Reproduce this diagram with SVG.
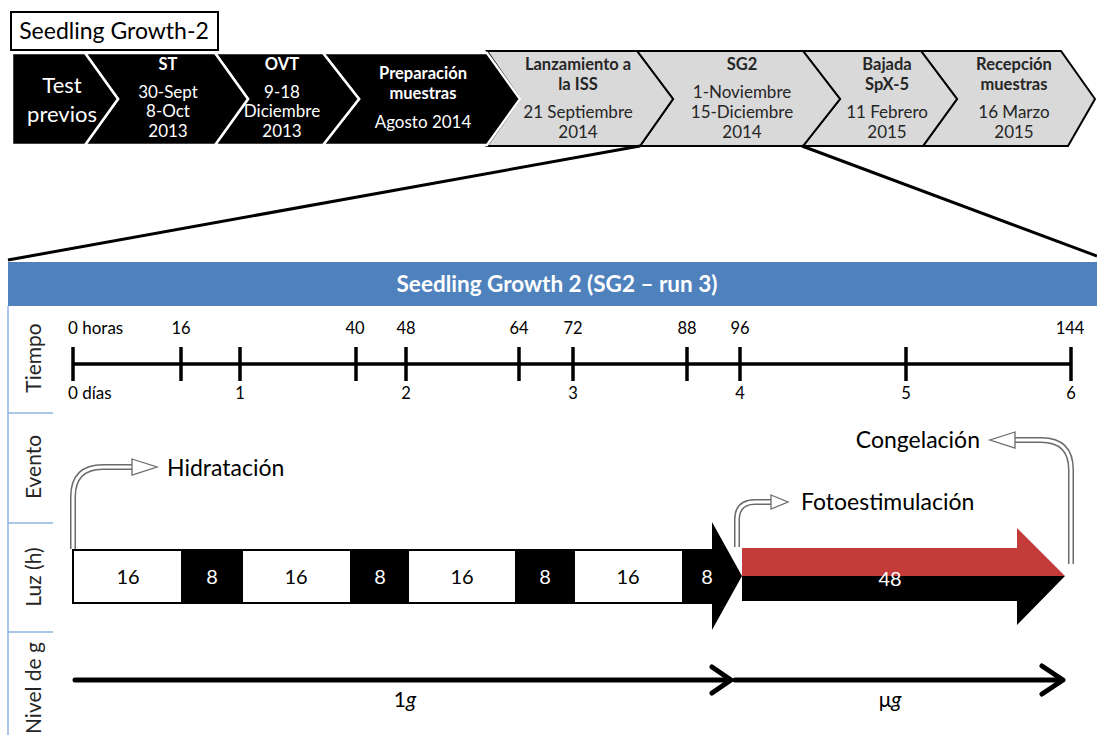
<svg xmlns="http://www.w3.org/2000/svg" width="1097" height="735" viewBox="0 0 1097 735">
  <style>
    text { font-family: Lato, "Liberation Sans", sans-serif; }
    .chev-dark { fill: #000; stroke: #fff; stroke-width: 2.5; stroke-linejoin: miter; }
    .chev-light { fill: #d9d9d9; stroke: #000; stroke-width: 2; stroke-linejoin: miter; }
    .wt { fill: #fff; text-anchor: middle; font-size: 17px; }
    .wtb { fill: #fff; text-anchor: middle; font-size: 16.5px; font-weight: bold; }
    .dk { fill: #262626; text-anchor: middle; font-size: 17px; }
    .dkb { fill: #262626; text-anchor: middle; font-size: 16.5px; font-weight: bold; }
    .axis { stroke: #000; stroke-width: 3.5; fill: none; }
    .tick { stroke: #000; stroke-width: 3.5; }
    .tl { fill: #000; font-size: 16.5px; text-anchor: middle; }
    .tl-start { fill: #000; font-size: 17px; text-anchor: start; }
    .row { fill: #262626; font-size: 21px; text-anchor: middle; }
    .cell-w { fill: #fff; stroke: #000; stroke-width: 2; }
    .cell-b { fill: #000; stroke: #000; stroke-width: 2; }
    .num { font-size: 20px; text-anchor: middle; }
    .sep { stroke: #8eb4e3; stroke-width: 1.5; }
    .ev-out { fill: none; stroke: #6b6b6b; stroke-width: 6; }
    .ev-in { fill: none; stroke: #fff; stroke-width: 3; }
    .ev-head { fill: #fff; stroke: #6b6b6b; stroke-width: 1.3; stroke-linejoin: miter; }
    .ev-label { fill: #000; font-size: 23px; }
    .g-line { stroke: #000; stroke-width: 5; fill: none; stroke-linecap: round; stroke-linejoin: round; }
    .zoom { stroke: #000; stroke-width: 3; }
  </style>

  <rect width="1097" height="735" fill="#fff"/>

  <!-- Title -->
  <g id="title">
    <rect x="11" y="12" width="207" height="38" fill="#fff" stroke="#000" stroke-width="2"/>
    <text x="114" y="39" font-size="23" text-anchor="middle" fill="#000">Seedling Growth-2</text>
  </g>

  <!-- Milestone chevrons -->
  <g id="chev-recepcion">
    <polygon class="chev-light" points="921,51 1061,51 1095,99 1068,146 923,146 957,99"/>
    <text class="dkb" x="1014" y="70">Recepción</text>
    <text class="dkb" x="1014" y="90">muestras</text>
    <text class="dk" x="1014" y="118">16 Marzo</text>
    <text class="dk" x="1014" y="138">2015</text>
  </g>
  <g id="chev-bajada">
    <polygon class="chev-light" points="803,51 921,51 957,99 923,146 803,146 840,99"/>
    <text class="dkb" x="887" y="70">Bajada</text>
    <text class="dkb" x="887" y="90">SpX-5</text>
    <text class="dk" x="887" y="118">11 Febrero</text>
    <text class="dk" x="887" y="138">2015</text>
  </g>
  <g id="chev-sg2">
    <polygon class="chev-light" points="637,51 803,51 840,99 803,146 640,146 673,99"/>
    <text class="dkb" x="742" y="70">SG2</text>
    <text class="dk" x="742" y="98">1-Noviembre</text>
    <text class="dk" x="742" y="118">15-Diciembre</text>
    <text class="dk" x="742" y="138">2014</text>
  </g>
  <g id="chev-lanzamiento">
    <polygon class="chev-light" points="487,51 637,51 673,99 640,146 487,146 520,99"/>
    <text class="dkb" x="578" y="70">Lanzamiento a</text>
    <text class="dkb" x="578" y="90">la ISS</text>
    <text class="dk" x="578" y="118">21 Septiembre</text>
    <text class="dk" x="578" y="138">2014</text>
  </g>
  <g id="chev-preparacion">
    <polygon class="chev-dark" points="323,53 487,53 520,99 487,145 323,145 359,99"/>
    <text class="wtb" x="423" y="79">Preparación</text>
    <text class="wtb" x="423" y="99">muestras</text>
    <text class="wt" x="423" y="128">Agosto 2014</text>
  </g>
  <g id="chev-ovt">
    <polygon class="chev-dark" points="215,53 323,53 359,99 323,145 215,145 248,99"/>
    <text class="wtb" x="282" y="70">OVT</text>
    <text class="wt" x="282" y="98">9-18</text>
    <text class="wt" x="282" y="117">Diciembre</text>
    <text class="wt" x="282" y="137">2013</text>
  </g>
  <g id="chev-st">
    <polygon class="chev-dark" points="85,53 215,53 248,99 215,145 85,145 118,99"/>
    <text class="wtb" x="168" y="70">ST</text>
    <text class="wt" x="168" y="98">30-Sept</text>
    <text class="wt" x="168" y="117">8-Oct</text>
    <text class="wt" x="168" y="137">2013</text>
  </g>
  <g id="chev-test">
    <polygon class="chev-dark" points="12,53 85,53 118,99 85,145 12,145"/>
    <text x="62" y="93" fill="#fff" font-size="22" text-anchor="middle">Test</text>
    <text x="62" y="122" fill="#fff" font-size="22" text-anchor="middle">previos</text>
  </g>

  <!-- Zoom lines from SG2 to the detail panel -->
  <g id="connectors">
    <line class="zoom" x1="640" y1="146" x2="8" y2="260"/>
    <line class="zoom" x1="802" y1="146" x2="1097" y2="256"/>
  </g>

  <!-- Detail panel -->
  <g id="panel-header">
    <rect x="8" y="262" width="1089" height="44" fill="#4f81bd"/>
    <text x="557" y="292" fill="#fff" font-size="22.5" font-weight="bold" text-anchor="middle">Seedling Growth 2 (SG2 – run 3)</text>
  </g>

  <g id="row-labels">
    <line class="sep" x1="8" y1="306" x2="8" y2="735"/>
    <line class="sep" x1="8" y1="413" x2="53" y2="413"/>
    <line class="sep" x1="8" y1="523" x2="53" y2="523"/>
    <line class="sep" x1="8" y1="632" x2="53" y2="632"/>
    <text class="row" transform="translate(41,358) rotate(-90)">Tiempo</text>
    <text class="row" transform="translate(41,467) rotate(-90)">Evento</text>
    <text class="row" transform="translate(41,577) rotate(-90)">Luz (h)</text>
    <text class="row" transform="translate(41,688) rotate(-90)">Nivel de g</text>
  </g>

  <!-- Time axis -->
  <g id="timeline">
    <line class="axis" x1="73" y1="364" x2="1071" y2="364"/>
    <g class="tick">
      <line x1="73" y1="347" x2="73" y2="381"/>
      <line x1="181" y1="347" x2="181" y2="381"/>
      <line x1="240" y1="347" x2="240" y2="381"/>
      <line x1="356" y1="347" x2="356" y2="381"/>
      <line x1="406" y1="347" x2="406" y2="381"/>
      <line x1="519" y1="347" x2="519" y2="381"/>
      <line x1="573" y1="347" x2="573" y2="381"/>
      <line x1="687" y1="347" x2="687" y2="381"/>
      <line x1="740" y1="347" x2="740" y2="381"/>
      <line x1="906" y1="347" x2="906" y2="381"/>
      <line x1="1071" y1="347" x2="1071" y2="381"/>
    </g>
    <text class="tl-start" x="68" y="334">0 horas</text>
    <text class="tl" x="181" y="334">16</text>
    <text class="tl" x="355" y="334">40</text>
    <text class="tl" x="406" y="334">48</text>
    <text class="tl" x="519" y="334">64</text>
    <text class="tl" x="573" y="334">72</text>
    <text class="tl" x="687" y="334">88</text>
    <text class="tl" x="740" y="334">96</text>
    <text class="tl" x="1070" y="334">144</text>
    <text class="tl-start" x="68" y="399">0 días</text>
    <text class="tl" x="240" y="399">1</text>
    <text class="tl" x="406" y="399">2</text>
    <text class="tl" x="573" y="399">3</text>
    <text class="tl" x="740" y="399">4</text>
    <text class="tl" x="906" y="399">5</text>
    <text class="tl" x="1071" y="399">6</text>
  </g>

  <!-- Light / dark cycles -->
  <g id="light-cycles">
    <rect class="cell-w" x="73" y="550" width="109" height="53"/>
    <rect class="cell-b" x="182" y="550" width="60" height="53"/>
    <rect class="cell-w" x="242" y="550" width="109" height="53"/>
    <rect class="cell-b" x="351" y="550" width="57" height="53"/>
    <rect class="cell-w" x="408" y="550" width="108" height="53"/>
    <rect class="cell-b" x="516" y="550" width="58" height="53"/>
    <rect class="cell-w" x="574" y="550" width="109" height="53"/>
    <polygon fill="#000" points="683,549 712,549 712,522 742,576 712,630 712,604 683,604"/>
    <text class="num" x="128" y="584" fill="#000">16</text>
    <text class="num" x="212" y="584" fill="#fff">8</text>
    <text class="num" x="296" y="584" fill="#000">16</text>
    <text class="num" x="380" y="584" fill="#fff">8</text>
    <text class="num" x="462" y="584" fill="#000">16</text>
    <text class="num" x="545" y="584" fill="#fff">8</text>
    <text class="num" x="628" y="584" fill="#000">16</text>
    <text class="num" x="707" y="584" fill="#fff">8</text>
  </g>

  <!-- Continuous light period -->
  <g id="light-continuous">
    <polygon fill="#000" points="742,576 1065,576 1017,625 1017,601 742,601"/>
    <polygon fill="#c43c39" points="742,548 1017,548 1017,528 1065,576 742,576"/>
    <text class="num" x="890" y="586" fill="#fff">48</text>
  </g>

  <!-- Events -->
  <g id="event-hidratacion">
    <path class="ev-out" d="M73,549 V497 Q73,467 103,467 H133"/>
    <path class="ev-in" d="M73,549 V497 Q73,467 103,467 H134"/>
    <polygon class="ev-head" points="132,459 157,467 132,475"/>
    <text class="ev-label" x="167" y="476">Hidratación</text>
  </g>
  <g id="event-fotoestimulacion">
    <path class="ev-out" d="M737,547 V520 Q737,502 755,502 H772"/>
    <path class="ev-in" d="M737,547 V520 Q737,502 755,502 H773"/>
    <polygon class="ev-head" points="771,495 788,502 771,509"/>
    <text class="ev-label" x="801" y="510">Fotoestimulación</text>
  </g>
  <g id="event-congelacion">
    <path class="ev-out" d="M1071,564 V470 Q1071,440 1041,440 H1014"/>
    <path class="ev-in" d="M1071,564 V470 Q1071,440 1041,440 H1013"/>
    <polygon class="ev-head" points="1015,432 990,440 1015,448"/>
    <text class="ev-label" x="980" y="448" text-anchor="end">Congelación</text>
  </g>

  <!-- Gravity level -->
  <g id="gravity-1g">
    <line class="g-line" x1="75" y1="680" x2="730" y2="680"/>
    <polyline class="g-line" points="712,667 731,680 712,693"/>
    <text x="405" y="707" font-size="21" text-anchor="middle" fill="#000">1<tspan font-style="italic">g</tspan></text>
  </g>
  <g id="gravity-micro">
    <line class="g-line" x1="735" y1="680" x2="1062" y2="680"/>
    <polyline class="g-line" points="1042,666 1063,680 1042,694"/>
    <text x="890" y="707" font-size="21" text-anchor="middle" fill="#000">μ<tspan font-style="italic">g</tspan></text>
  </g>
</svg>
